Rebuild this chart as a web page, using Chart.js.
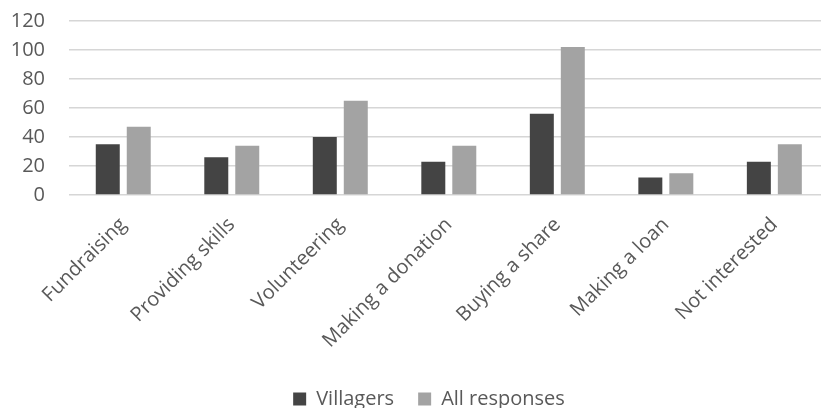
<!DOCTYPE html>
<html>
<head>
<meta charset="utf-8">
<script src="https://cdn.jsdelivr.net/npm/chart.js@4/dist/chart.umd.min.js"></script>
<style>
  html, body { margin: 0; padding: 0; background: #ffffff; overflow: hidden; }
  #wrap { width: 821px; height: 408px; overflow: hidden; position: relative; }
  canvas { display: block; }
</style>
</head>
<body>
<div id="wrap"><canvas id="chart" width="852" height="408"></canvas></div>
<script>
// Ways people would support the project
const categories = [
  'Fundraising', 'Providing skills', 'Volunteering', 'Making a donation',
  'Buying a share', 'Making a loan', 'Not interested'
];
const villagers = [35, 26, 40, 23, 56, 12, 23];
const allResponses = [47, 34, 65, 34, 102, 15, 35];
const yTicks = [0, 20, 40, 60, 80, 100, 120];

const FONT = "'Open Sans', 'Liberation Sans', sans-serif";
const TEXT = '#595959';

new Chart(document.getElementById('chart'), {
  type: 'bar',
  data: {
    labels: categories,
    datasets: [
      { label: 'Villagers', data: villagers, backgroundColor: '#444444',
        categoryPercentage: 0.571, barPercentage: 0.774 },
      { label: 'All responses', data: allResponses, backgroundColor: '#a3a3a3',
        categoryPercentage: 0.571, barPercentage: 0.774 }
    ]
  },
  options: {
    responsive: false,
    animation: false,
    layout: { padding: { left: 12, right: 6, top: 0, bottom: -11 } },
    plugins: {
      tooltip: { enabled: false },
      legend: {
        position: 'bottom',
        labels: {
          color: TEXT,
          font: { family: FONT, size: 20 },
          boxWidth: 13,
          boxHeight: 13,
          padding: 24
        }
      }
    },
    scales: {
      x: {
        grid: { display: false },
        border: { display: false },
        ticks: {
          color: TEXT,
          font: { family: FONT, size: 20 },
          minRotation: 45,
          maxRotation: 45,
          autoSkip: false,
          padding: 10
        },
        afterFit(scale) {
          scale.height = 170;
          scale.paddingRight = 23.4;
        }
      },
      y: {
        min: 0,
        max: 120,
        border: { display: false },
        grid: { color: '#d6d6d6', lineWidth: 1.5, drawTicks: false },
        afterBuildTicks(scale) { scale.ticks = yTicks.map(v => ({ value: v })); },
        ticks: {
          color: TEXT,
          font: { family: FONT, size: 20 },
          autoSkip: false,
          padding: 24
        },
        afterFit(scale) {
          scale.width = 57;
          scale.paddingTop = 21;
        }
      }
    }
  }
});
</script>
</body>
</html>
